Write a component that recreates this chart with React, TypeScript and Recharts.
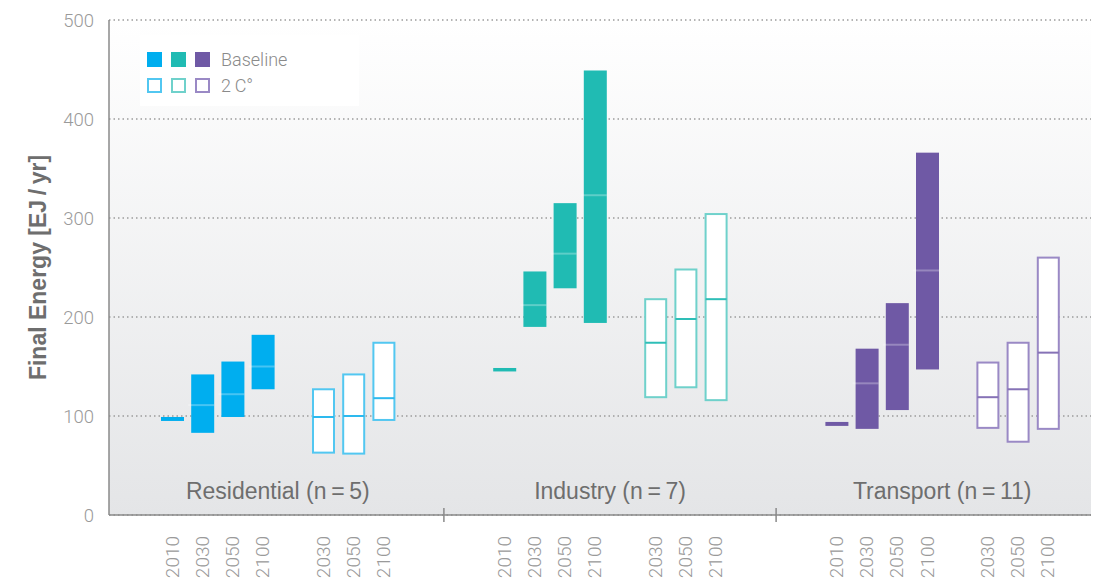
import React from "react";
import {
  ComposedChart,
  Bar,
  XAxis,
  YAxis,
  CartesianGrid,
  ReferenceDot,
  ReferenceLine,
} from "recharts";

// ---- data ----
const baselineYears = ["2010", "2030", "2050", "2100"];
const scenarioYears = ["2030", "2050", "2100"];
const sectorNames = [
  "Residential (n\u2009=\u20095)",
  "Industry (n\u2009=\u20097)",
  "Transport (n\u2009=\u200911)",
];
const yTicks = [0, 100, 200, 300, 400, 500];

// [low, high, median]
const residentialBaseline: (number | null)[][] = [
  [95, 99, null],
  [83, 142, 111],
  [99, 155, 122],
  [127, 182, 150],
];
const residential2C: (number | null)[][] = [
  [62, 128, 99],
  [61, 143, 100],
  [95, 175, 118],
];
const industryBaseline: (number | null)[][] = [
  [145, 148.5, null],
  [190, 246, 212],
  [229, 315, 264],
  [194, 449, 323],
];
const industry2C: (number | null)[][] = [
  [118, 219, 174],
  [128, 249, 198],
  [115, 305, 218],
];
const transportBaseline: (number | null)[][] = [
  [90, 94, null],
  [87, 168, 133],
  [106, 214, 172],
  [147, 366, 247],
];
const transport2C: (number | null)[][] = [
  [87, 155, 119],
  [73, 175, 127],
  [86, 261, 164],
];

// ---- styles ----
const sectorFill = ["#00AEEF", "#20BBB3", "#6F59A5"];
const sectorOutline = ["#52C7F1", "#6FD1CB", "#9A89C5"];
const sectorMedian2C = ["#2DB9EE", "#2EBEB7", "#8672B6"];
const filledMedian = "rgba(255,255,255,0.28)";
const lightFont = "Roboto, 'Liberation Sans', sans-serif";
const labelFont = "'Liberation Sans', Arial, sans-serif";

// ---- build rows ----
type Row = {
  key: string;
  idx: number;
  label: string;
  range: [number, number] | null;
  median: number | null;
  sector: number;
  hollow: boolean;
};

const sectorBase = [residentialBaseline, industryBaseline, transportBaseline];
const sector2C = [residential2C, industry2C, transport2C];

const rows: Row[] = [];
const groupStart: number[] = [];
const separators: number[] = [];
const pushEmpty = (si: number, tag: string) =>
  rows.push({
    key: `${si}${tag}${rows.length}`,
    idx: rows.length,
    label: "",
    range: null,
    median: null,
    sector: si,
    hollow: false,
  });

sectorBase.forEach((base, si) => {
  groupStart.push(rows.length);
  base.forEach((v, i) =>
    rows.push({
      key: `${si}b${i}`,
      idx: rows.length,
      label: baselineYears[i],
      range: [v[0] as number, v[1] as number],
      median: v[2],
      sector: si,
      hollow: false,
    })
  );
  pushEmpty(si, "g");
  sector2C[si].forEach((v, i) =>
    rows.push({
      key: `${si}s${i}`,
      idx: rows.length,
      label: scenarioYears[i],
      range: [v[0] as number, v[1] as number],
      median: v[2],
      sector: si,
      hollow: true,
    })
  );
  if (si < sectorBase.length - 1) {
    pushEmpty(si, "a");
    separators.push(rows.length);
    pushEmpty(si, "b");
    pushEmpty(si, "c");
  }
});

const labelByKey: Record<string, string> = {};
rows.forEach((r) => (labelByKey[r.key] = r.label));

// ---- shapes ----
const BoxShape = (props: any) => {
  const { x, y, width, height, payload } = props;
  if (!payload || !payload.range || !isFinite(y) || !isFinite(height)) return <g />;
  const top = Math.min(y, y + height);
  const h = Math.abs(height);
  const [lo, hi] = payload.range;
  const medY =
    payload.median == null ? null : top + (h * (hi - payload.median)) / (hi - lo);
  const s = payload.sector;
  if (payload.hollow) {
    return (
      <g>
        <rect
          x={x + 1}
          y={top + 1}
          width={width - 2}
          height={Math.max(h - 2, 0)}
          fill="#ffffff"
          stroke={sectorOutline[s]}
          strokeWidth={2}
        />
        {medY != null && (
          <line x1={x + 1} x2={x + width - 1} y1={medY} y2={medY} stroke={sectorMedian2C[s]} strokeWidth={2} />
        )}
      </g>
    );
  }
  return (
    <g>
      <rect x={x} y={top} width={width} height={h} fill={sectorFill[s]} />
      {medY != null && (
        <line x1={x - 3} x2={x + width} y1={medY} y2={medY} stroke={filledMedian} strokeWidth={2} />
      )}
    </g>
  );
};

const YearTick = (props: any) => {
  const { x, y, payload } = props;
  const label = labelByKey[payload?.value] ?? "";
  if (!label) return <g />;
  const ty = y + 13;
  return (
    <text
      x={x}
      y={ty}
      transform={`rotate(-90 ${x} ${ty})`}
      textAnchor="end"
      dominantBaseline="central"
      fill="#9a9a9a"
      fontSize={19}
      fontWeight={300}
      fontFamily={lightFont}
    >
      {label}
    </text>
  );
};

const YLabel = (props: any) => {
  const vb = props.viewBox || { x: 0, y: 12, width: 101, height: 495 };
  const cx = vb.x + 30;
  const cy = vb.y + vb.height / 2;
  return (
    <text
      x={cx}
      y={cy}
      transform={`rotate(-90 ${cx} ${cy})`}
      textAnchor="middle"
      dominantBaseline="central"
      fill="#6e6e6e"
      fontSize={23}
      fontWeight={700}
      fontFamily={labelFont}
    >
      Final Energy [EJ{"\u2009/\u2009"}yr]
    </text>
  );
};

const Legend = () => (
  <div
    style={{
      position: "absolute",
      left: 132,
      top: 27,
      width: 219,
      height: 71,
      background: "#ffffff",
      fontFamily: lightFont,
      fontWeight: 300,
      color: "#8a8a8a",
      fontSize: 18,
    }}
  >
    {[false, true].map((hollow, row) => (
      <div
        key={row}
        style={{
          position: "absolute",
          left: 7,
          top: row === 0 ? 16 : 42,
          display: "flex",
          alignItems: "center",
          height: 17,
        }}
      >
        {sectorFill.map((c, i) => (
          <div
            key={i}
            style={{
              width: 15,
              height: 15,
              marginRight: 9,
              boxSizing: "border-box",
              background: hollow ? "#ffffff" : c,
              border: hollow ? `2px solid ${sectorOutline[i]}` : "none",
            }}
          />
        ))}
        <span style={{ marginLeft: 2, lineHeight: "17px" }}>{hollow ? "2\u2009C°" : "Baseline"}</span>
      </div>
    ))}
  </div>
);

export default function App() {
  return (
    <div style={{ position: "relative", width: 1091, height: 570 }}>
      <ComposedChart
        width={1091}
        height={570}
        data={rows}
        margin={{ top: 12, right: 0, left: 0, bottom: 0 }}
        barSize={23}
      >
        <defs>
          <linearGradient id="plotBg" x1="0" y1="0" x2="0" y2="1">
            <stop offset="0%" stopColor="#ffffff" />
            <stop offset="100%" stopColor="#e4e5e7" />
          </linearGradient>
        </defs>
        <CartesianGrid
          vertical={false}
          fill="url(#plotBg)"
          stroke="#9c9c9c"
          strokeWidth={1.5}
          strokeDasharray="1.5 3"
        />
        <XAxis
          dataKey="key"
          type="category"
          interval={0}
          height={63}
          padding={{ left: 48, right: 36 }}
          axisLine={{ stroke: "#8a8a8a", strokeWidth: 1.5 }}
          tickLine={false}
          tick={<YearTick />}
        />
        <XAxis
          xAxisId="num"
          dataKey="idx"
          type="number"
          domain={[-0.5, 29.5]}
          allowDataOverflow
          padding={{ left: 48, right: 36 }}
          hide
        />
        <YAxis
          width={101}
          domain={[0, 500]}
          ticks={yTicks}
          interval={0}
          axisLine={{ stroke: "#8a8a8a", strokeWidth: 1.5 }}
          tickLine={false}
          tickSize={6}
          tickMargin={9}
          tick={{ fill: "#9a9a9a", fontSize: 18.5, fontWeight: 300, fontFamily: lightFont }}
          label={<YLabel />}
        />
        <Bar dataKey="range" isAnimationActive={false} shape={BoxShape} />
        {groupStart.map((g, i) => (
          <ReferenceDot
            key={`gl${i}`}
            xAxisId="num"
            x={g + 3.5}
            y={24}
            r={0}
            fill="none"
            stroke="none"
            label={{
              value: sectorNames[i],
              position: "center",
              fill: "#6e6e6e",
              fontSize: 23,
              fontFamily: labelFont,
            }}
          />
        ))}
        {separators.map((s, i) => (
          <ReferenceLine
            key={`sep${i}`}
            xAxisId="num"
            segment={[
              { x: s, y: -7 },
              { x: s, y: 7 },
            ]}
            stroke="#8a8a8a"
            strokeWidth={1.5}
            ifOverflow="visible"
          />
        ))}
      </ComposedChart>
      <Legend />
    </div>
  );
}
